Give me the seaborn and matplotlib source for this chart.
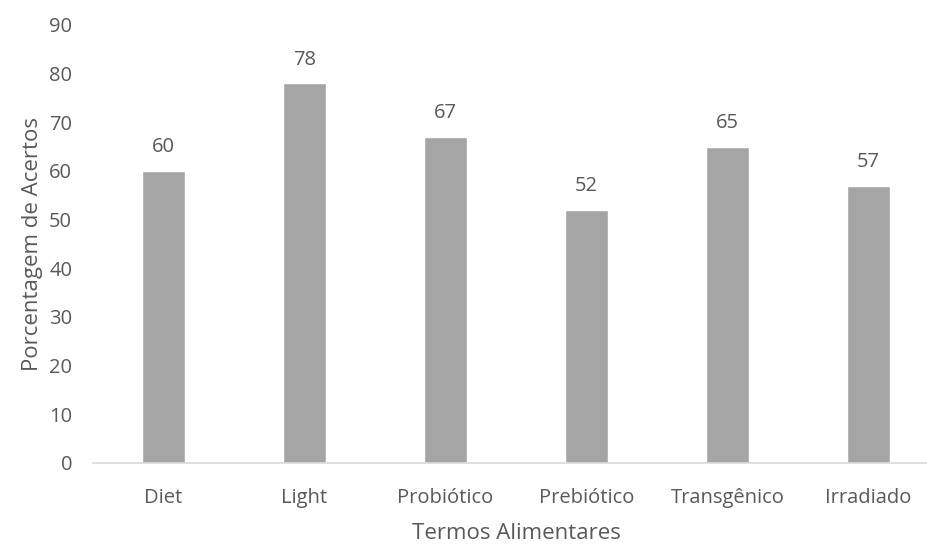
import matplotlib
matplotlib.use("Agg")
import matplotlib.pyplot as plt
import seaborn as sns
import pandas as pd

# Percentage of correct answers per food term
termos = ["Diet", "Light", "Probiótico", "Prebiótico", "Transgênico", "Irradiado"]
acertos = [60, 78, 67, 52, 65, 57]
yticks = [0, 10, 20, 30, 40, 50, 60, 70, 80, 90]

df = pd.DataFrame({"Termos Alimentares": termos, "Porcentagem de Acertos": acertos})

sns.set_theme(style="white")
plt.rcParams["font.family"] = ["Open Sans", "DejaVu Sans"]

text_color = "#595959"
bar_color = "#A5A5A5"

fig = plt.figure(figsize=(9.28, 5.45), dpi=100)
# axes extend slightly past the right edge of the canvas
ax = fig.add_axes([93 / 928, (545 - 463) / 545, 846 / 928, (463 - 25) / 545])

sns.barplot(data=df, x="Termos Alimentares", y="Porcentagem de Acertos",
            color=bar_color, saturation=1, width=0.31, ax=ax)

for i, v in enumerate(acertos):
    ax.annotate(f"{v:d}", xy=(i, v), xytext=(0, 10), textcoords="offset points",
                ha="center", va="bottom", fontsize=14.5, color=text_color)

ax.set_xlim(-0.5, len(termos) - 0.5)
ax.set_ylim(0, 90)
ax.set_yticks(yticks)
ax.tick_params(axis="both", length=0, labelsize=14.5, colors=text_color)
ax.tick_params(axis="x", pad=18)
ax.tick_params(axis="y", pad=15)

for side in ["top", "right", "left"]:
    ax.spines[side].set_visible(False)
ax.spines["bottom"].set_color("#D9D9D9")
ax.spines["bottom"].set_linewidth(1.2)

ax.set_xlabel("Termos Alimentares", fontsize=16, color=text_color, labelpad=11)
ax.set_ylabel("Porcentagem de Acertos", fontsize=16, color=text_color, labelpad=4)

fig.savefig("out.png", dpi=100)
